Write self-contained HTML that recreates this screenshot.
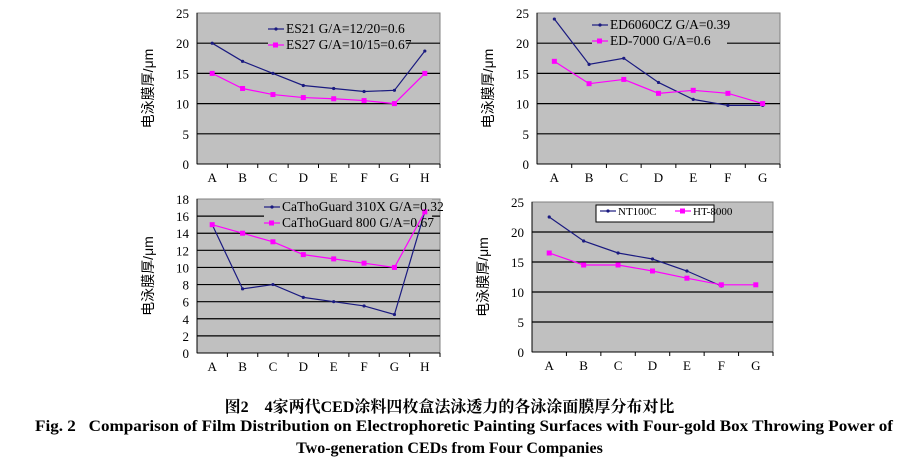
<!DOCTYPE html><html><head><style>
body{margin:0;background:#fff;width:899px;height:464px;overflow:hidden;font-family:"Liberation Serif","Noto Serif CJK SC",serif}
.cap{position:absolute;left:0;width:899px;text-align:center;font-weight:bold;white-space:nowrap}
.cap span{display:inline-block}
</style></head><body>
<svg id="s" width="899" height="390" style="position:absolute;left:0;top:0" font-family="Liberation Serif, serif"></svg>
<div class="cap" style="top:394px;font-size:16px;font-family:'Liberation Serif','Noto Serif CJK SC',serif"><span style="transform:scaleX(1.0)">图2　4家两代CED涂料四枚盒法泳透力的各泳涂面膜厚分布对比</span></div>
<div class="cap" style="top:418px;font-size:16px;left:35px;width:858px;text-align:left"><span id="e1" style="transform-origin:0 0">Fig. 2&nbsp;&nbsp; Comparison of Film Distribution on Electrophoretic Painting Surfaces with Four-gold Box Throwing Power of</span></div>
<div class="cap" style="top:440px;font-size:16px"><span id="e2">Two-generation CEDs from Four Companies</span></div>
<script>
const s=document.getElementById('s');let h='';
function chart(o){
 const {x0,x1,y0,y1,max,step,cats,b,p,leg,lx,ly,box,lw}=o;
 h+=`<rect x="${x0}" y="${y1}" width="${x1-x0}" height="${y0-y1}" fill="#c0c0c0" stroke="#808080"/>`;
 const Y=v=>y0-(y0-y1)*v/max, n=cats.length, w=(x1-x0)/n, X=i=>x0+w*(i+.5);
 for(let v=0;v<=max;v+=step){ if(v>0&&v<max)h+=`<line x1="${x0}" x2="${x1}" y1="${Y(v)}" y2="${Y(v)}" stroke="#000" stroke-width="1.2"/>`;
  h+=`<text x="${x0-8}" y="${Y(v)+5}" font-size="13" text-anchor="end">${v}</text>`;}
 h+=`<line x1="${x0}" y1="${y1}" x2="${x0}" y2="${y0}" stroke="#000"/><line x1="${x0}" y1="${y0}" x2="${x1}" y2="${y0}" stroke="#000"/>`;
 cats.forEach((c,i)=>{h+=`<line x1="${x0+w*(i+1)}" x2="${x0+w*(i+1)}" y1="${y0}" y2="${y0+4}" stroke="#000"/><text x="${X(i)}" y="${y0+18}" font-size="13" text-anchor="middle">${c}</text>`;});
 h+=`<text transform="translate(${x0-44},${(y0+y1)/2}) rotate(-90)" font-size="14" text-anchor="middle" font-family="Liberation Sans, Noto Sans CJK SC, sans-serif">电泳膜厚/μm</text>`;
 const pl=(d,c,sq)=>{h+=`<polyline fill="none" stroke="${c}" stroke-width="1.2" points="${d.map((v,i)=>v==null?'':X(i)+','+Y(v)).join(' ')}"/>`;
  d.forEach((v,i)=>{if(v!=null)h+=sq?`<rect x="${X(i)-2.5}" y="${Y(v)-2.5}" width="5" height="5" fill="${c}"/>`:`<circle cx="${X(i)}" cy="${Y(v)}" r="1.6" fill="${c}"/>`;});};
 if(box)h+=`<rect x="${lx-4}" y="${ly-10}" width="${box}" height="17" fill="#fff" stroke="#000"/>`;
 else h+=`<rect x="${lx}" y="${ly-13}" width="${lw}" height="32" fill="#c0c0c0"/>`;
 pl(b,'#1a1a80',0);pl(p,'#ff00ff',1);
 leg.forEach((t,i)=>{const yy=ly+i*(box?0:16),xx=lx+(box&&i?75:0);const c=i?'#ff00ff':'#1a1a80';
  h+=`<line x1="${xx}" x2="${xx+16}" y1="${yy-4}" y2="${yy-4}" stroke="${c}" stroke-width="1.2"/>`+(i?`<rect x="${xx+5}" y="${yy-6.5}" width="5" height="5" fill="${c}"/>`:`<circle cx="${xx+8}" cy="${yy-4}" r="1.6" fill="${c}"/>`)+
  `<text x="${xx+18}" y="${yy}" font-size="${box?11:13.5}">${t}</text>`;});
}
chart({x0:197,x1:440,y0:164,y1:13,max:25,step:5,cats:'ABCDEFGH'.split(''),b:[20,17,15,13,12.5,12,12.2,18.7],p:[15,12.5,11.5,11,10.8,10.5,10,15],leg:['ES21 G/A=12/20=0.6','ES27 G/A=10/15=0.67'],lx:268,ly:33,lw:138});
chart({x0:537,x1:780,y0:164,y1:13,max:25,step:5,cats:'ABCDEFG'.split(''),b:[24,16.5,17.5,13.5,10.7,9.7,9.7],p:[17,13.3,14,11.7,12.2,11.7,10],leg:['ED6060CZ G/A=0.39','ED-7000 G/A=0.6'],lx:592,ly:29,lw:135});
chart({x0:197,x1:440,y0:353,y1:199,max:18,step:2,cats:'ABCDEFGH'.split(''),b:[15,7.5,8,6.5,6,5.5,4.5,16.5],p:[15,14,13,11.5,11,10.5,10,16.5],leg:['CaThoGuard 310X G/A=0.32','CaThoGuard 800 G/A=0.67'],lx:264,ly:211,lw:168});
chart({x0:532,x1:773,y0:352,y1:202,max:25,step:5,cats:'ABCDEFG'.split(''),b:[22.5,18.5,16.5,15.5,13.5,11,null],p:[16.5,14.5,14.5,13.5,12.3,11.2,11.2],leg:['NT100C','HT-8000'],lx:600,ly:215,box:118});
s.innerHTML=h;
const e1=document.getElementById('e1');e1.style.transform=`scaleX(${858/e1.getBoundingClientRect().width})`;
</script></body></html>
